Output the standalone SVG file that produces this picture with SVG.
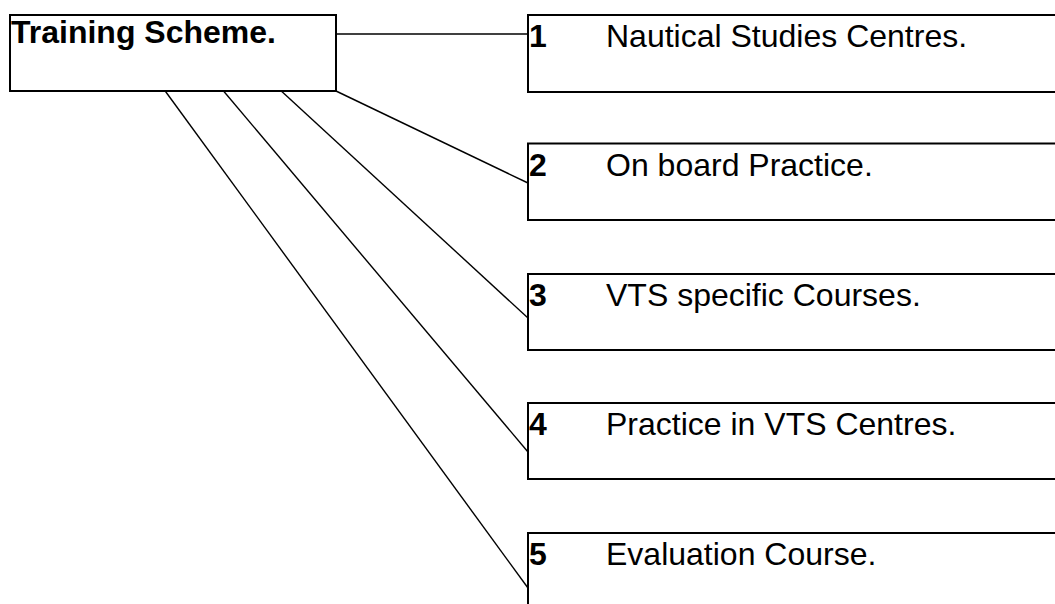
<svg xmlns="http://www.w3.org/2000/svg" width="1055" height="604" viewBox="0 0 1055 604">
  <style>
    .box { fill: #ffffff; stroke: #000000; stroke-width: 2; }
    .link { stroke: #000000; stroke-width: 1.4; fill: none; }
    .title { font-family: "Liberation Sans", Arial, sans-serif; font-size: 32px; font-weight: bold; fill: #000000; }
    .num { font-family: "Liberation Sans", Arial, sans-serif; font-size: 32px; font-weight: bold; fill: #000000; }
    .label { font-family: "Liberation Sans", Arial, sans-serif; font-size: 32px; fill: #000000; }
  </style>
  <rect width="1055" height="604" fill="#ffffff"/>

  <!-- connectors from the scheme box to each stage -->
  <g id="connectors">
    <line class="link" x1="336" y1="34" x2="528" y2="34"/>
    <line class="link" x1="336" y1="91" x2="528" y2="183"/>
    <line class="link" x1="278" y1="88" x2="528" y2="318"/>
    <line class="link" x1="221" y1="88" x2="528" y2="452"/>
    <line class="link" x1="163" y1="88" x2="528" y2="588"/>
  </g>

  <g id="training-scheme">
    <rect class="box" x="10" y="15" width="326" height="76"/>
    <text class="title" x="11" y="43">Training Scheme.</text>
  </g>

  <g id="stage-1">
    <rect class="box" x="528" y="15" width="540" height="77"/>
    <text class="num" x="529" y="47">1</text>
    <text class="label" x="606" y="47">Nautical Studies Centres.</text>
  </g>

  <g id="stage-2">
    <rect class="box" x="528" y="143.5" width="540" height="76.5"/>
    <text class="num" x="529" y="176">2</text>
    <text class="label" x="606" y="176">On board Practice.</text>
  </g>

  <g id="stage-3">
    <rect class="box" x="528" y="274" width="540" height="76"/>
    <text class="num" x="529" y="306">3</text>
    <text class="label" x="606" y="306">VTS specific Courses.</text>
  </g>

  <g id="stage-4">
    <rect class="box" x="528" y="403" width="540" height="76"/>
    <text class="num" x="529" y="435">4</text>
    <text class="label" x="606" y="435">Practice in VTS Centres.</text>
  </g>

  <g id="stage-5">
    <rect class="box" x="528" y="533" width="540" height="80"/>
    <text class="num" x="529" y="565">5</text>
    <text class="label" x="606" y="565">Evaluation Course.</text>
  </g>
</svg>
